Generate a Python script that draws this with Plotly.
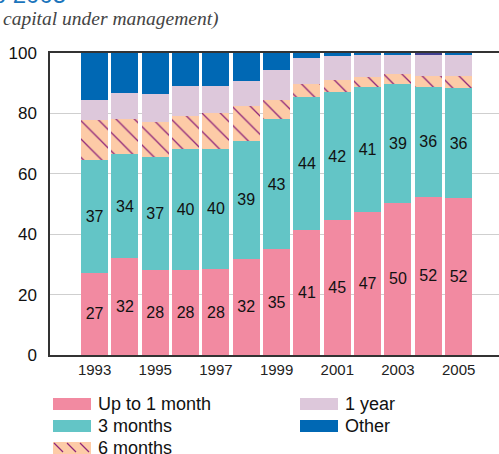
import plotly.graph_objects as go

years = list(range(1993, 2006))
up_to_1_month = [27.3, 32.0, 28.3, 28.0, 28.4, 31.9, 35.0, 41.4, 44.7, 47.3, 50.4, 52.4, 52.0]
three_months = [37.4, 34.4, 37.4, 40.3, 39.9, 39.1, 43.0, 43.9, 42.3, 41.4, 39.4, 36.3, 36.3]
six_months = [13.1, 11.9, 11.5, 10.7, 11.7, 11.3, 6.4, 4.4, 4.0, 3.3, 3.3, 3.7, 4.1]
one_year = [6.5, 8.4, 9.1, 10.0, 9.0, 8.4, 9.9, 8.6, 8.0, 7.3, 6.2, 6.9, 6.9]
other = [15.7, 13.4, 13.7, 11.0, 11.0, 9.3, 5.7, 1.7, 1.0, 0.7, 0.7, 0.7, 0.7]
xtick_vals = [1993, 1995, 1997, 1999, 2001, 2003, 2005]
ytick_vals = [0, 20, 40, 60, 80, 100]
series_names = ["Up to 1 month", "3 months", "6 months", "1 year", "Other"]

PINK = "#F28AA1"
TEAL = "#63C5C6"
ORANGE = "#FDCBA7"
HATCH = "#8E2579"
LILAC = "#DDC8DB"
BLUE = "#0068B4"

W, H = 499, 454
L, R, T, B = 50, 0, 53, 99
PW, PH = W - L - R, H - T - B


def fx(px):
    return (px - L) / PW


def fy(py):
    return (H - B - py) / PH


fig = go.Figure()
bar_w = 0.89
label_font = dict(family="Liberation Sans, Arial", size=16, color="#111")

fig.add_trace(go.Bar(x=years, y=up_to_1_month, name=series_names[0], width=bar_w,
                     marker=dict(color=PINK, line=dict(width=0)),
                     texttemplate="%{y:.0f}", textposition="inside",
                     insidetextanchor="middle", textangle=0, textfont=label_font,
                     constraintext="none"))
fig.add_trace(go.Bar(x=years, y=three_months, name=series_names[1], width=bar_w,
                     marker=dict(color=TEAL, line=dict(width=0)),
                     texttemplate="%{y:.0f}", textposition="inside",
                     insidetextanchor="middle", textangle=0, textfont=label_font,
                     constraintext="none"))
fig.add_trace(go.Bar(x=years, y=six_months, name=series_names[2], width=bar_w,
                     marker=dict(color=ORANGE, line=dict(width=0),
                                 pattern=dict(shape="\\", bgcolor=ORANGE, fgcolor=HATCH,
                                              fgopacity=1, size=13, solidity=0.1,
                                              fillmode="replace"))))
fig.add_trace(go.Bar(x=years, y=one_year, name=series_names[3], width=bar_w,
                     marker=dict(color=LILAC, line=dict(width=0))))
other_colors = [BLUE] * len(years)
other_colors[years.index(2004)] = "#3F3F8F"
fig.add_trace(go.Bar(x=years, y=other, name=series_names[4], width=bar_w,
                     marker=dict(color=other_colors, line=dict(width=0))))

# Manual legend (two columns, wide swatches)
shapes = []
annotations = []
legend_items = [
    (series_names[0], PINK, 53, 404),
    (series_names[1], TEAL, 53, 426),
    (series_names[2], ORANGE, 53, 448),
    (series_names[3], LILAC, 300, 404),
    (series_names[4], BLUE, 300, 426),
]
for name, col, sx, cy in legend_items:
    shapes.append(dict(type="rect", xref="paper", yref="paper",
                       x0=fx(sx), x1=fx(sx + 38), y0=fy(cy + 6), y1=fy(cy - 6),
                       fillcolor=col, line=dict(width=0), layer="above"))
    annotations.append(dict(xref="paper", yref="paper", x=fx(sx + 43), y=fy(cy),
                            xanchor="left", yanchor="middle", text=name, showarrow=False,
                            font=dict(family="Liberation Sans, Arial", size=18, color="#111")))
    if name == "6 months":
        for hx in (54, 67, 80):
            x1 = min(hx + 9, sx + 38)
            shapes.append(dict(type="line", xref="paper", yref="paper",
                               x0=fx(hx), y0=fy(cy - 5), x1=fx(x1),
                               y1=fy(cy - 5 + (x1 - hx)),
                               line=dict(color=HATCH, width=1.3), layer="above"))

# Header texts (cropped in the reference)
annotations.append(dict(xref="paper", yref="paper", x=fx(68), y=fy(-6), xanchor="right",
                        yanchor="middle", text="to 2005", showarrow=False,
                        font=dict(family="Liberation Sans, Arial", size=24, color="#1B75BC")))
annotations.append(dict(xref="paper", yref="paper", x=fx(1), y=fy(19), xanchor="left",
                        yanchor="middle", text="<i>capital under management)</i>", showarrow=False,
                        font=dict(family="Liberation Serif, Times New Roman", size=19.5, color="#444")))

fig.update_layout(
    barmode="stack",
    width=W, height=H,
    margin=dict(l=L, r=R, t=T, b=B, pad=0),
    paper_bgcolor="white", plot_bgcolor="white",
    showlegend=False,
    shapes=shapes,
    annotations=annotations,
    xaxis=dict(range=[1991.53, 2006.33], tickvals=xtick_vals, ticktext=[str(v) for v in xtick_vals],
               showgrid=False, zeroline=False, showline=True, linecolor="#333", linewidth=1.5,
               mirror=True, ticks="", ticklabelstandoff=0,
               tickfont=dict(family="Liberation Sans, Arial", size=15, color="#222")),
    yaxis=dict(range=[0, 100], tickvals=ytick_vals, showgrid=True, gridcolor="#CFCFCF",
               gridwidth=1, zeroline=False, showline=True, linecolor="#333", linewidth=1.5,
               ticks="", ticklabelstandoff=8,
               tickfont=dict(family="Liberation Sans, Arial", size=17, color="#111")),
)

fig.write_html("out.html", config={"displayModeBar": False},
               post_script="document.body.style.margin='0';document.body.style.overflow='hidden';")
